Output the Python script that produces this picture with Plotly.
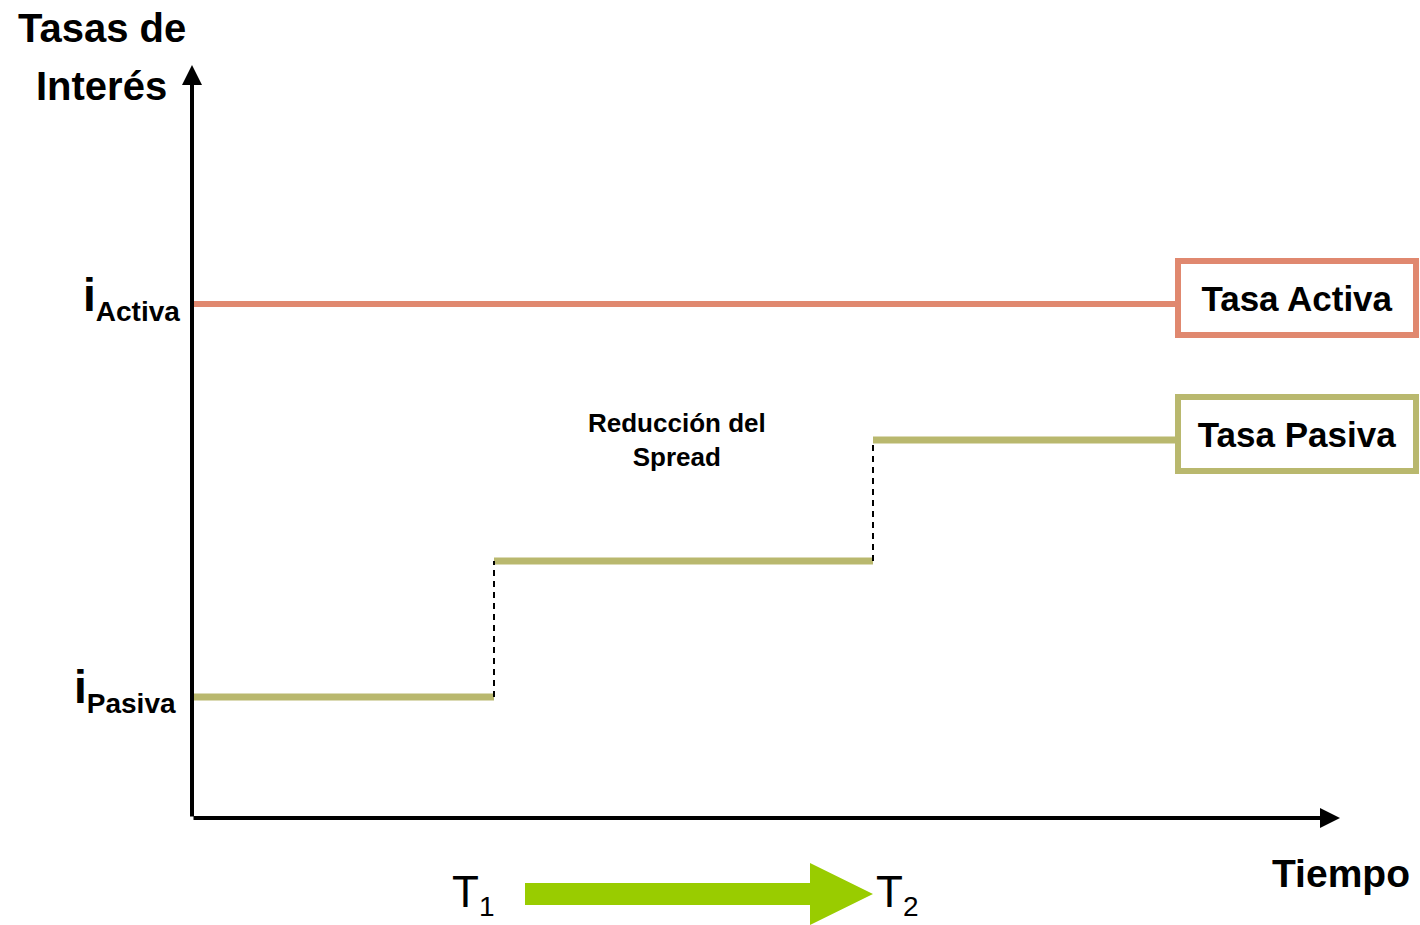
import plotly.graph_objects as go

# Time axis (arbitrary units): origin, T1, T2 and end of the drawn horizon
t_inicio = 0.0
t1 = 3.02
t2 = 6.81
t_fin = 9.83

# Interest-rate levels (arbitrary units)
tasa_activa = 5.14
tasa_pasiva = [1.21, 2.57, 3.78]   # before T1, between T1 and T2, after T2

# Axis extents
x_max = 11.48
y_max = 7.53

COLOR_ACTIVA = "#E0886F"
COLOR_PASIVA = "#B9B86E"
COLOR_FLECHA = "#99CC00"
SANS = "Liberation Sans, Arial, sans-serif"

fig = go.Figure()

# Lending rate: flat across the horizon
fig.add_trace(go.Scatter(
    x=[t_inicio, t_fin], y=[tasa_activa, tasa_activa], mode="lines",
    line=dict(color=COLOR_ACTIVA, width=6), hoverinfo="skip"))

# Deposit rate: three steps
cortes = [t_inicio, t1, t2, t_fin]
px, py = [], []
for i, nivel in enumerate(tasa_pasiva):
    px += [cortes[i], cortes[i + 1], None]
    py += [nivel, nivel, None]
fig.add_trace(go.Scatter(
    x=px, y=py, mode="lines", line=dict(color=COLOR_PASIVA, width=7),
    hoverinfo="skip"))

# Dashed risers at T1 and T2
dx, dy = [], []
for t, a, b in [(t1, tasa_pasiva[0], tasa_pasiva[1]), (t2, tasa_pasiva[1], tasa_pasiva[2])]:
    dx += [t, t, None]
    dy += [a, b, None]
fig.add_trace(go.Scatter(
    x=dx, y=dy, mode="lines", line=dict(color="black", width=2, dash="6px,5px"),
    hoverinfo="skip"))

# Green arrow from T1 towards T2 below the time axis
y_flecha = -0.76
x0 = t1 + 0.31
x_base = t2 - 0.63
medio, cabeza = 0.11, 0.31
fig.add_trace(go.Scatter(
    x=[x0, x_base, x_base, t2, x_base, x_base, x0, x0],
    y=[y_flecha + medio, y_flecha + medio, y_flecha + cabeza, y_flecha,
       y_flecha - cabeza, y_flecha - medio, y_flecha - medio, y_flecha + medio],
    mode="lines", fill="toself", fillcolor=COLOR_FLECHA,
    line=dict(color=COLOR_FLECHA, width=0), hoverinfo="skip"))

# Axes with arrowheads
for (xt, yt) in [(0, y_max), (x_max, 0)]:
    fig.add_annotation(
        x=xt, y=yt, ax=0, ay=0, xref="x", yref="y", axref="x", ayref="y",
        showarrow=True, arrowhead=2, arrowsize=1, arrowwidth=4,
        arrowcolor="black", text="")

bold = dict(family=SANS, color="black", weight="bold")

# Axis titles
fig.add_annotation(x=-0.9, y=7.90, xref="x", yref="y", showarrow=False,
                   text="Tasas de", font=dict(size=40, **bold))
fig.add_annotation(x=-0.91, y=7.32, xref="x", yref="y", showarrow=False,
                   text="Interés", font=dict(size=40, **bold))
fig.add_annotation(x=11.49, y=-0.55, xref="x", yref="y", showarrow=False,
                   text="Tiempo", font=dict(size=39, **bold))

# Rate labels on the vertical axis
for nombre, nivel, xs, ys in [("Activa", tasa_activa, 0, 6), ("Pasiva", tasa_pasiva[0], -4, 7)]:
    fig.add_annotation(
        x=-0.1, y=nivel, xref="x", yref="y", xanchor="right", showarrow=False,
        xshift=xs, yshift=ys,
        text=f"i<sub><span style='font-size:28px'>{nombre}</span></sub>",
        font=dict(size=46, **bold))

# Middle note
fig.add_annotation(
    x=4.85, y=3.78, xref="x", yref="y", showarrow=False,
    text="Reducción del<br>Spread", align="center",
    font=dict(size=26, **bold))

# Time markers
for etiqueta, t, dxl in [("1", t1, -0.21), ("2", t2, 0.24)]:
    fig.add_annotation(
        x=t + dxl, y=-0.76, xref="x", yref="y", showarrow=False,
        text=f"T<sub><span style='font-size:28px'>{etiqueta}</span></sub>",
        font=dict(family=SANS, size=44, color="black"))

# Series legend boxes at the right end of each rate line
for texto, nivel, color in [("Tasa Activa", tasa_activa, COLOR_ACTIVA),
                            ("Tasa Pasiva", tasa_pasiva[2], COLOR_PASIVA)]:
    fig.add_annotation(
        x=t_fin, y=nivel, xref="x", yref="y", xanchor="left", yanchor="middle",
        yshift=6, showarrow=False, text=texto, width=232, height=68,
        align="center", valign="middle", bgcolor="white",
        bordercolor=color, borderwidth=6, borderpad=0,
        font=dict(size=35, **bold))

fig.update_layout(
    width=1420, height=925, margin=dict(l=0, r=0, t=0, b=0),
    paper_bgcolor="white", plot_bgcolor="white", showlegend=False,
    xaxis=dict(range=[-1.92, 12.28], visible=False, fixedrange=True),
    yaxis=dict(range=[-1.07, 8.18], visible=False, fixedrange=True),
)

fig.write_html("out.html")
